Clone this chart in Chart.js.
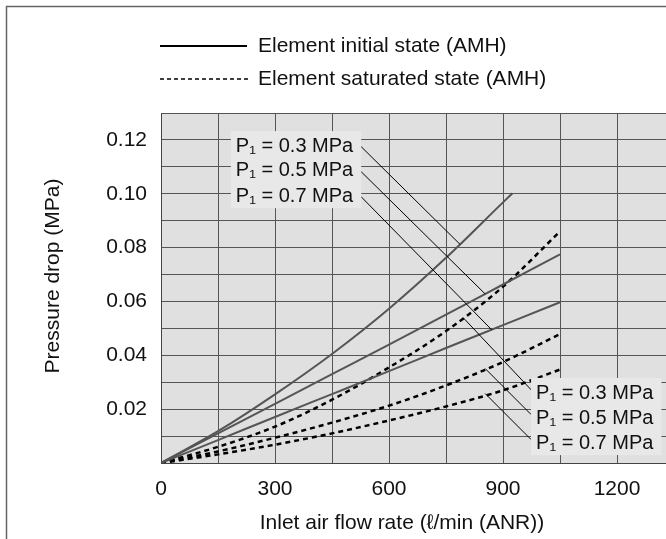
<!DOCTYPE html>
<html>
<head>
<meta charset="utf-8">
<script src="https://cdn.jsdelivr.net/npm/chart.js@4.4.1/dist/chart.umd.min.js"></script>
<style>
html, body { margin: 0; padding: 0; overflow: hidden; background: #fff; }
canvas { display: block; }
</style>
</head>
<body>
<canvas id="drop" width="688" height="539"></canvas>
<script>
// flow rate (l/min ANR) and pressure drop (MPa)
const flow = [0, 150, 300, 450, 600, 750, 900, 1050];
const flowInit03 = [0, 150, 300, 450, 600, 750, 900, 925];
const init03 = [0, 0.0118, 0.0255, 0.0405, 0.0573, 0.0762, 0.0968, 0.1002];
const init05 = [0, 0.0110, 0.0220, 0.0330, 0.0440, 0.0551, 0.0663, 0.0775];
const init07 = [0, 0.0085, 0.0171, 0.0256, 0.0341, 0.0427, 0.0512, 0.0597];
const sat03 = [0, 0.0060, 0.0135, 0.0235, 0.0355, 0.0490, 0.0655, 0.0860];
const sat05 = [0, 0.0043, 0.0094, 0.0150, 0.0213, 0.0288, 0.0375, 0.0479];
const sat07 = [0, 0.0032, 0.0068, 0.0110, 0.0158, 0.0210, 0.0270, 0.0347];

const xTicks = ['0', '300', '600', '900', '1200'];
const yTicks = ['0.02', '0.04', '0.06', '0.08', '0.10', '0.12'];
const pressures = ['P\u2081 = 0.3 MPa', 'P\u2081 = 0.5 MPa', 'P\u2081 = 0.7 MPa'];

// callout labels and their leader lines, in data units
const labelTopX = 197;
const labelTopY = [0.1177, 0.1087, 0.0991];
const labelBotX = 987;
const labelBotY = [0.0260, 0.0167, 0.0074];
const leaderTop = [[526, 0.1176, 787, 0.0812], [526, 0.1083, 853, 0.0628], [526, 0.0990, 870, 0.0495]];
const leaderBot = [[795, 0.0540, 974, 0.0272], [853, 0.0351, 974, 0.0180], [853, 0.0258, 974, 0.0087]];

const pts = (xs, ys) => xs.map((v, i) => ({x: v, y: ys[i]}));
const FONT = '"Liberation Sans", Arial, Helvetica, sans-serif';
Chart.defaults.font.family = FONT;
Chart.defaults.font.size = 21;
Chart.defaults.color = '#111';

function solid(data) {
    return { data: data, borderColor: '#555', borderWidth: 2, cubicInterpolationMode: 'monotone', order: 2 };
}
function dashed(data) {
    return { data: data, borderColor: '#000', borderWidth: 2.5, borderDash: [5, 4], cubicInterpolationMode: 'monotone', order: 2 };
}
function leader(l) {
    return { data: [{x: l[0], y: l[1]}, {x: l[2], y: l[3]}], borderColor: '#000', borderWidth: 1, order: 1 };
}

const decor = {
    id: 'decor',
    beforeDraw(chart) {
        const {ctx, chartArea: a} = chart;
        ctx.save();
        ctx.fillStyle = '#fff';
        ctx.fillRect(0, 0, chart.width, chart.height);
        ctx.fillStyle = '#e0e0e0';
        ctx.fillRect(a.left, a.top, a.right - a.left, a.bottom - a.top);
        ctx.strokeStyle = '#666';
        ctx.lineWidth = 1.5;
        ctx.strokeRect(6.5, 6.5, chart.width + 20, chart.height + 20);
        ctx.restore();
    },
    afterDatasetsDraw(chart) {
        const {ctx, scales: {x, y}} = chart;
        ctx.save();
        ctx.font = '20px ' + FONT;
        ctx.textBaseline = 'middle';
        const w = Math.max(...pressures.map(t => ctx.measureText(t).width));
        [[labelTopX, labelTopY], [labelBotX, labelBotY]].forEach(([lx, rows]) => {
            const px = x.getPixelForValue(lx);
            const ys = rows.map(v => y.getPixelForValue(v));
            ctx.fillStyle = '#e8e8e8';
            ctx.fillRect(px - 5, ys[0] - 15, w + 13, ys[2] - ys[0] + 27);
            ctx.fillStyle = '#111';
            pressures.forEach((t, i) => ctx.fillText(t, px, ys[i]));
        });

        // legend
        ctx.font = '21px ' + FONT;
        ctx.strokeStyle = '#000';
        ctx.lineWidth = 2;
        ctx.beginPath(); ctx.moveTo(160, 46); ctx.lineTo(247, 46); ctx.stroke();
        ctx.lineWidth = 1.5;
        ctx.setLineDash([4, 3]);
        ctx.beginPath(); ctx.moveTo(160, 79); ctx.lineTo(248, 79); ctx.stroke();
        ctx.setLineDash([]);
        ctx.fillText('Element initial state (AMH)', 258, 46);
        ctx.fillText('Element saturated state (AMH)', 258, 79);

        // axis titles (placed like the original, a bit off the plot centre)
        ctx.textAlign = 'center';
        ctx.fillText('Inlet air flow rate (\u2113/min (ANR))', 402, 523);
        ctx.translate(53, 276);
        ctx.rotate(-Math.PI / 2);
        ctx.fillText('Pressure drop (MPa)', 0, 0);
        ctx.restore();
    }
};

new Chart(document.getElementById('drop'), {
    type: 'line',
    data: {
        datasets: [
            solid(pts(flowInit03, init03)),
            solid(pts(flow, init05)),
            solid(pts(flow, init07)),
            dashed(pts(flow, sat03)),
            dashed(pts(flow, sat05)),
            dashed(pts(flow, sat07))
        ].concat(leaderTop.map(leader), leaderBot.map(leader))
    },
    options: {
        responsive: false,
        animation: false,
        devicePixelRatio: 1,
        layout: { padding: { top: 113, left: 0, right: 0, bottom: 0 } },
        elements: { point: { radius: 0 } },
        plugins: { legend: { display: false }, tooltip: { enabled: false } },
        scales: {
            x: {
                type: 'linear', min: 0, max: 1350,
                afterFit(s) { s.height = 76; },
                ticks: {
                    stepSize: 150, padding: 14, autoSkip: false, maxRotation: 0,
                    callback: v => xTicks.includes(String(v)) ? String(v) : ''
                },
                grid: { color: '#555', lineWidth: 1, drawTicks: false },
                border: { color: '#444', width: 1 }
            },
            y: {
                min: 0, max: 0.13,
                afterFit(s) { s.width = 161; },
                ticks: {
                    stepSize: 0.01, padding: 14, autoSkip: false,
                    callback: v => yTicks.includes(v.toFixed(2)) ? v.toFixed(2) : ''
                },
                grid: { color: '#555', lineWidth: 1, drawTicks: false },
                border: { color: '#444', width: 1 }
            }
        }
    },
    plugins: [decor]
});
</script>
</body>
</html>
